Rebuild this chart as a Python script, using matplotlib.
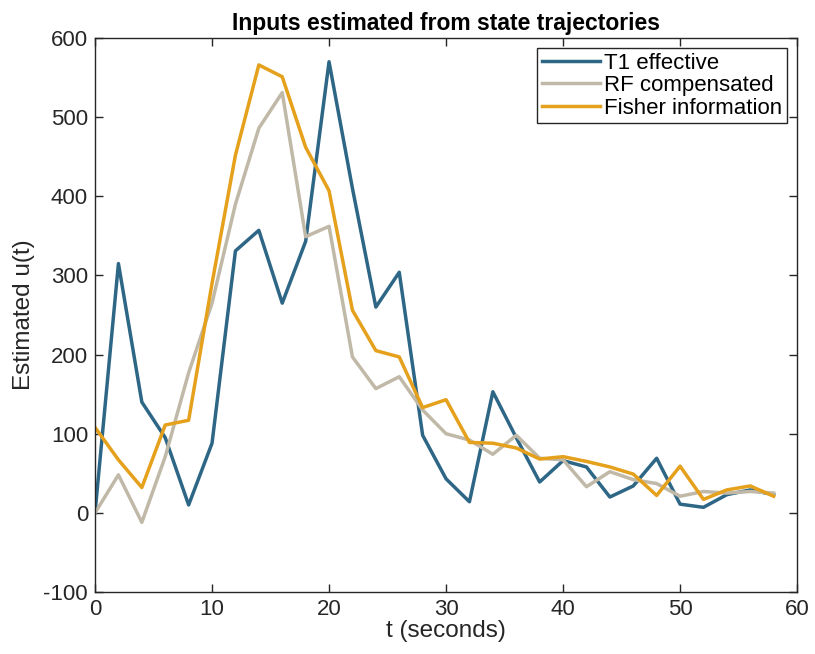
import numpy as np
import matplotlib
matplotlib.use('Agg')
import matplotlib.pyplot as plt

# ── Data ──
t = np.arange(0, 60, 2)
t1_effective = [0, 315, 140, 95, 10, 88, 331, 357, 265, 343, 570, 410, 260, 304,
                98, 43, 14, 153, 95, 39, 66, 58, 20, 34, 69, 11, 7, 23, 29, 23]
rf_compensated = [0, 48, -12, 71, 177, 265, 390, 486, 531, 349, 362, 197, 157, 172,
                  130, 100, 92, 74, 98, 69, 67, 33, 52, 42, 37, 21, 27, 25, 27, 25]
fisher_info = [108, 67, 32, 111, 117, 290, 452, 566, 551, 462, 407, 256, 205, 197,
               133, 143, 89, 88, 82, 68, 71, 65, 58, 49, 22, 59, 17, 29, 34, 21]

plt.rcParams['font.family'] = ['Liberation Sans', 'DejaVu Sans']
plt.rcParams['axes.unicode_minus'] = False

fig = plt.figure(figsize=(8.15, 6.54), dpi=100)
ax = fig.add_axes([0.1166, 0.0948, 0.8614, 0.8471])

ax.plot(t, t1_effective, color='#2e6686', lw=2.5, label='T1 effective')
ax.plot(t, rf_compensated, color='#c0b9a8', lw=2.5, label='RF compensated')
ax.plot(t, fisher_info, color='#e5a01c', lw=2.5, label='Fisher information')

ax.set_xlim(0, 60)
ax.set_ylim(-100, 600)
ax.set_xticks(np.arange(0, 61, 10))
ax.set_yticks(np.arange(-100, 601, 100))
ax.tick_params(direction='in', length=6, width=1, labelsize=16, colors='#262626',
               top=True, right=True, pad=5)
for s in ax.spines.values():
    s.set_color('#262626')
    s.set_linewidth(1)

ax.set_xlabel('t (seconds)', fontsize=17.5, color='#262626', labelpad=0)
ax.set_ylabel('Estimated u(t)', fontsize=17.5, color='#262626', labelpad=6)
ax.set_title('Inputs estimated from state trajectories', fontsize=16.5,
             fontweight='bold', pad=6)

leg = ax.legend(loc='upper right', fontsize=16, frameon=True, fancybox=False,
                edgecolor='#262626', framealpha=1, borderpad=0.22,
                handlelength=2.6, handletextpad=0.2, labelspacing=0.06,
                borderaxespad=0.45)
leg.get_frame().set_linewidth(1)

fig.savefig('out.png', dpi=100, facecolor='white')
